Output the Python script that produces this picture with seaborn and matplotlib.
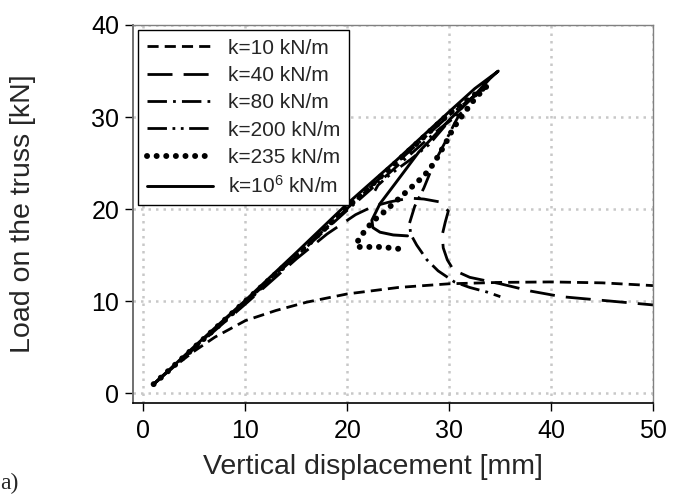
import matplotlib
matplotlib.use("Agg")
import matplotlib.pyplot as plt
import seaborn as sns
import pandas as pd

# ---- data ----
k10_x = [1, 3, 5, 7, 10, 13, 16, 20, 25, 30, 35, 40, 45, 50]
k10_y = [1, 2.9, 4.6, 6.1, 7.9, 9.0, 9.9, 10.8, 11.5, 11.9, 12.05, 12.1, 12.0, 11.7]

k40_x = [1, 5, 10, 15, 18, 20.8, 22.5, 24.2, 26.1, 27.5, 29.0, 29.9, 29.6, 29.3, 29.4, 29.8,
         30.4, 32, 35, 38, 41, 45, 50]
k40_y = [1, 4.9, 9.7, 14.6, 17.3, 19.4, 20.3, 20.8, 21.2, 21.1, 20.8, 19.8, 18.6, 17.2, 15.8, 14.5,
         13.4, 12.6, 11.9, 11.1, 10.5, 10.1, 9.6]

k80_x = [1, 5, 10, 15, 20, 25, 29, 31.3, 31.0, 30.5, 29.6, 28.5, 27.5, 26.6, 26.1, 26.2, 26.8,
         27.8, 28.9, 30.5, 32, 33.7, 35]
k80_y = [1, 5, 9.9, 14.9, 19.9, 24.8, 28.7, 30.6, 30.3, 29.3, 27.3, 25, 22.3, 20.3, 18.5, 17.3, 16.1,
         14.5, 13.3, 12.1, 11.5, 11.0, 10.5]

k200_x = [1, 5, 10, 15, 20, 25, 30, 33.5, 32.5, 30, 28, 26.2, 25.2, 23.9, 23.0, 22.7]
k200_y = [1, 5, 10, 15, 20.1, 25.2, 30.2, 33.2, 32.4, 29.6, 27, 25.4, 24.6, 23.5, 22.6, 22.0]

k235_x = [1, 5, 10, 15, 20, 25, 30, 33.8, 32.5, 31.5, 30.7, 30.1, 29.7, 28.6, 27.9, 27.1, 26.3,
          25.3, 24.4, 23.5, 22.5, 21.7, 21.1, 20.9, 21.6, 22.5, 23.2, 24.2, 25.0]
k235_y = [1, 5, 10, 15, 20.2, 25.3, 30.4, 33.5, 32, 30.5, 29.3, 28.2, 27.3, 25.2, 24.1, 23.2, 22.4,
          21.4, 20.5, 19.6, 18.7, 17.6, 16.8, 15.9, 15.9, 15.9, 15.9, 15.8, 15.7]

k1e6_x = [1, 5, 10, 15, 20, 24.7, 30, 32.5, 34.8, 34.0, 32.5, 30, 27, 24.7, 23.2, 22.4, 22.5,
          23.2, 24.5, 25.9]
k1e6_y = [1, 5.1, 10.1, 15.3, 20.6, 25.2, 30.6, 33.1, 35, 34.2, 32.4, 29.7, 26.2, 22.8, 20.6, 18.8,
          18.0, 17.5, 17.2, 17.1]

labels = ["k=10 kN/m", "k=40 kN/m", "k=80 kN/m", "k=200 kN/m", "k=235 kN/m",
          "k=10$^{6}$ kN/m"]
x_ticks = [0, 10, 20, 30, 40, 50]
y_ticks = [0, 10, 20, 30, 40]

series = [(k10_x, k10_y), (k40_x, k40_y), (k80_x, k80_y), (k200_x, k200_y),
          (k235_x, k235_y), (k1e6_x, k1e6_y)]

# ---- styling ----
sns.set_style("ticks")
plt.rcParams["font.family"] = ["Liberation Sans", "DejaVu Sans"]
plt.rcParams["mathtext.default"] = "regular"

fig = plt.figure(figsize=(6.73, 4.97), dpi=100)
ax = fig.add_axes([0.198, 0.19, 0.7727, 0.7597])

styles = [
    dict(lw=2.0, dashes=(4.0, 2.2), cap="butt"),
    dict(lw=2.0, dashes=(9.0, 4.0), cap="butt"),
    dict(lw=2.0, dashes=(7.0, 2.2, 1.0, 2.2), cap="butt"),
    dict(lw=2.0, dashes=(7.0, 2.0, 1.0, 2.0, 1.0, 2.0), cap="butt"),
    dict(lw=4.3, dashes=(0.01, 1.6), cap="round"),
    dict(lw=2.1, dashes=None, cap="butt"),
]

handles = []
for (xs, ys), lab, st in zip(series, labels, styles):
    df = pd.DataFrame({"x": xs, "y": ys})
    n_before = len(ax.lines)
    sns.lineplot(data=df, x="x", y="y", ax=ax, sort=False, estimator=None,
                 color="black", linewidth=st["lw"], label=lab, legend=False)
    line = ax.lines[n_before]
    if st["dashes"] is not None:
        line.set_dashes(st["dashes"])
        line.set_dash_capstyle(st["cap"])
    else:
        line.set_linestyle("-")
    line.set_solid_joinstyle("round")
    line.set_label(lab)
    handles.append(line)

ax.set_xlim(-1, 50)
ax.set_ylim(-1, 40)
ax.set_xticks(x_ticks)
ax.set_yticks(y_ticks)
ax.grid(True, color="#c8c8c8", linestyle=(0, (1, 2)), linewidth=1.8)
ax.set_axisbelow(True)

for side in ["top", "right"]:
    ax.spines[side].set_visible(True)
    ax.spines[side].set_color("#808080")
    ax.spines[side].set_linewidth(1.0)
ax.spines["left"].set_color("#707070")
ax.spines["left"].set_linewidth(1.4)
ax.spines["bottom"].set_color("black")
ax.spines["bottom"].set_linewidth(1.2)

ax.tick_params(axis="both", direction="out", length=6, width=1.0, colors="black",
               labelsize=18)
ax.tick_params(axis="x", pad=6)
ax.tick_params(axis="y", pad=4)

ax.set_xlabel("Vertical displacement [mm]", fontsize=20.5)
ax.set_ylabel("Load on the truss [kN]", fontsize=20.5, labelpad=40)
ax.xaxis.set_label_coords(0.46, -0.135)

leg = ax.legend(handles=handles, loc="upper left", fontsize=15, frameon=True,
                fancybox=False, edgecolor="black", framealpha=1,
                handlelength=3.2, handletextpad=0.7, labelspacing=0.4,
                borderpad=0.4, borderaxespad=0.25)
leg.get_frame().set_linewidth(1.0)

fig.text(0.0, 0.005, "a)", fontsize=17, family=["Liberation Serif", "DejaVu Serif"],
         ha="left", va="bottom")

fig.savefig("out.png", dpi=100)
